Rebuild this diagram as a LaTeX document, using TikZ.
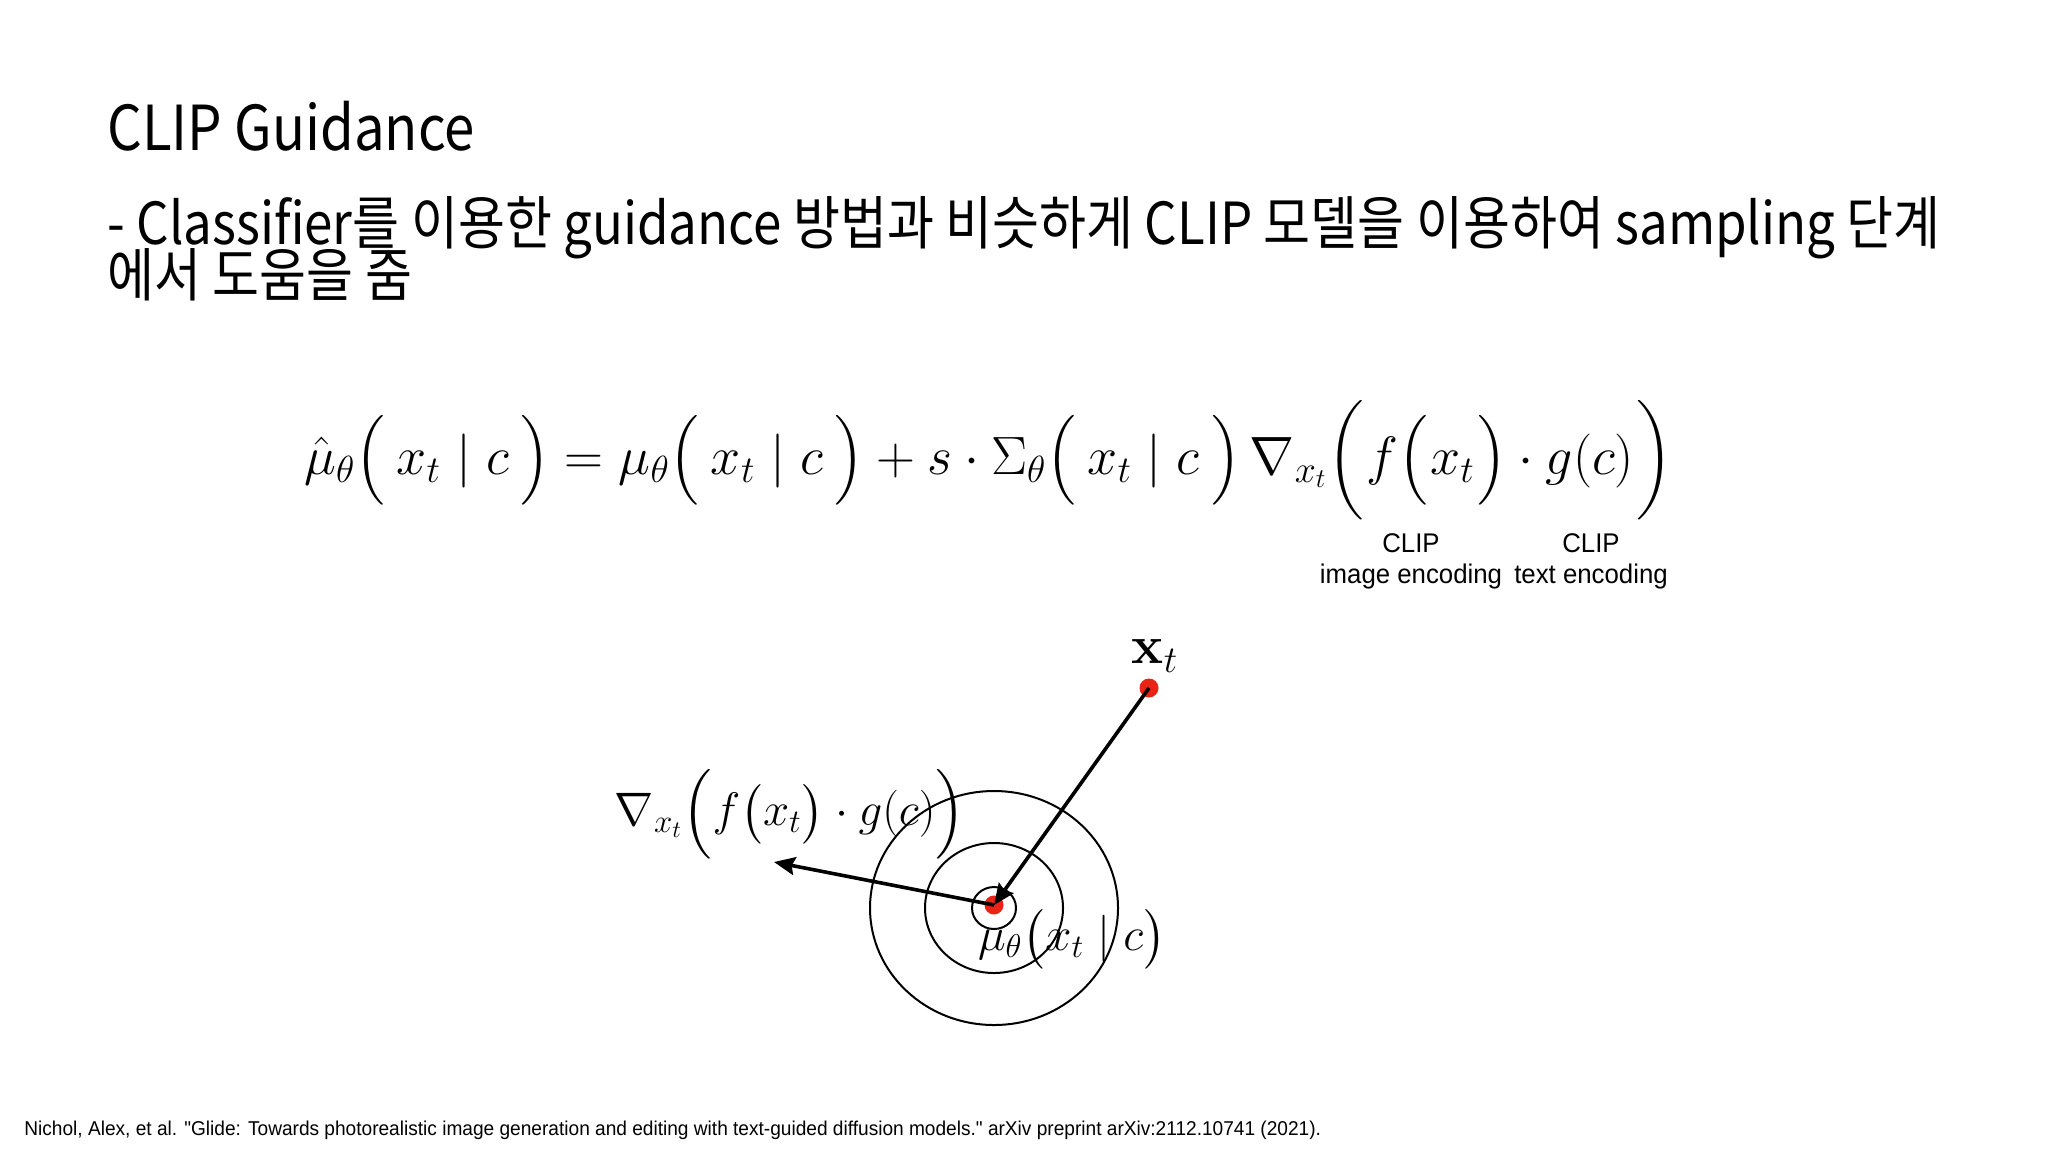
\RequirePackage{fix-cm}
\documentclass[tikz,border=0pt]{standalone}
\usepackage[no-math]{fontspec}
\usepackage{amsmath}
\usepackage{tikz}
\usetikzlibrary{
    positioning,
    arrows.meta,
    calc
}
\setmainfont{Liberation Sans}
\newfontfamily\krfont[FakeStretch=0.88]{Noto Sans CJK KR}
\newfontfamily\citefont[FakeStretch=0.955, Ligatures=TeXOff]{Liberation Sans}
\definecolor{dotRed}{RGB}{232, 36, 22}

% 높이를 지정한 괄호
\newcommand{\lpar}[1]{\mathopen{\nulldelimiterspace=0pt\left(\vcenter to #1{}\right.}}
\newcommand{\rpar}[1]{\mathclose{\nulldelimiterspace=0pt\left.\vcenter to #1{}\right)}}

\tikzset{
    dot/.style={circle, fill=dotRed, inner sep=0pt, minimum size=9.5pt},
    ring/.style={line width=1pt},
    vec/.style={line width=1.8pt, ->},
    slidetext/.style={anchor=base west, inner sep=0pt},
    enclabel/.style={align=center, font=\citefont\fontsize{13.5}{15.5}\selectfont},
    eqfont/.style={font=\fontsize{27}{34}\selectfont},
    figfont/.style={font=\fontsize{23.5}{29}\selectfont}
}

\begin{document}
\begin{tikzpicture}[x=0.5pt, y=-0.5pt, >={Stealth[length=10.5pt, width=9pt, inset=1.5pt]}]
    \useasboundingbox (0,0) rectangle (2048,1152);

    % 제목과 설명
    \node[slidetext, font=\krfont\fontsize{31}{36}\selectfont] (title) at (107,150) {CLIP Guidance};
    \node[slidetext, font=\krfont\fontsize{29}{25}\selectfont] (desc1) at (107,244)
        {- Classifier를 이용한 guidance 방법과 비슷하게 CLIP 모델을 이용하여 sampling 단계};
    \node[slidetext, font=\krfont\fontsize{29}{25}\selectfont] (desc2) at (107,296) {에서 도움을 줌};

    % 수식
    \node[anchor=base west, inner sep=0pt, eqfont] (eq) at (304,474)
        {$\hat{\mu}_\theta \lpar{34pt}\,x_t \mid c\,\rpar{34pt} = \mu_\theta \lpar{34pt}\,x_t \mid c\,\rpar{34pt} + s \cdot \Sigma_\theta \lpar{34pt}\,x_t \mid c\,\rpar{34pt}\, \nabla_{x_t}\lpar{60pt}f\lpar{34pt}x_t\rpar{34pt} \cdot g(c)\rpar{60pt}$};
    \node[enclabel, anchor=north] (imgenc) at (1411,527) {CLIP\\image encoding};
    \node[enclabel, anchor=north] (txtenc) at (1591,527) {CLIP\\text encoding};

    % 등고선
    \coordinate (C) at (994,908);
    \draw[ring] (C) ellipse [x radius=124, y radius=117];
    \draw[ring] (C) ellipse [x radius=69, y radius=65];
    \draw[ring] (C) ellipse [x radius=22, y radius=21];

    % 점과 화살표
    \node[dot] (mu) at (994,905) {};
    \node[dot] (xt) at (1149,688) {};
    \coordinate (gradtip) at (774,862);
    \draw[vec] (xt.center) -- (mu.center);
    \draw[vec] (mu.center) -- (gradtip);

    \node[font=\fontsize{27}{30}\selectfont] (xtlab) at (1155,656) {$\mathbf{x}_t$};
    \node[figfont] (gradlab) at (790,814) {$\nabla_{x_t}\Bigl(f\bigl(x_t\bigr) \cdot g(c)\Bigr)$};
    \node[figfont] (mulab) at (1072,939) {$\mu_\theta \bigl(x_t \mid c\bigr)$};

    % 출처
    \node[slidetext, font=\citefont\fontsize{10}{12}\selectfont] (cite) at (24,1135)
        {Nichol, Alex, et al. "Glide: Towards photorealistic image generation and editing with text-guided diffusion models." arXiv preprint arXiv:2112.10741 (2021).};
\end{tikzpicture}
\end{document}
